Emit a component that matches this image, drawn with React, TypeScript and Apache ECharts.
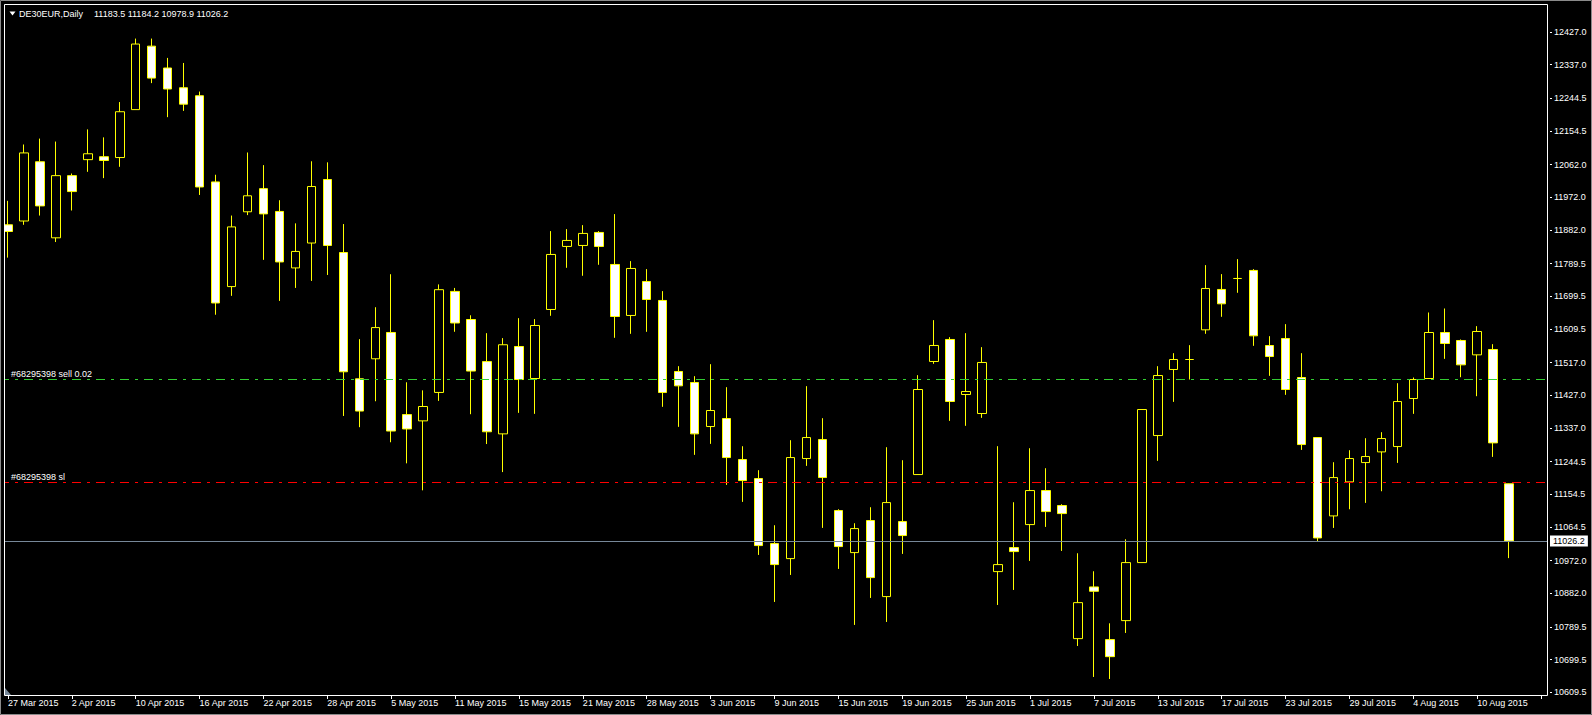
import React, { useEffect, useRef } from "react";
import * as echarts from "echarts";

const dates = [
  "27 Mar 2015", "30 Mar 2015", "31 Mar 2015", "1 Apr 2015", "2 Apr 2015", "7 Apr 2015", "8 Apr 2015", "9 Apr 2015",
  "10 Apr 2015", "13 Apr 2015", "14 Apr 2015", "15 Apr 2015", "16 Apr 2015", "17 Apr 2015", "20 Apr 2015", "21 Apr 2015",
  "22 Apr 2015", "23 Apr 2015", "24 Apr 2015", "27 Apr 2015", "28 Apr 2015", "29 Apr 2015", "30 Apr 2015", "4 May 2015",
  "5 May 2015", "6 May 2015", "7 May 2015", "8 May 2015", "11 May 2015", "12 May 2015", "13 May 2015", "14 May 2015",
  "15 May 2015", "18 May 2015", "19 May 2015", "20 May 2015", "21 May 2015", "22 May 2015", "26 May 2015", "27 May 2015",
  "28 May 2015", "29 May 2015", "1 Jun 2015", "2 Jun 2015", "3 Jun 2015", "4 Jun 2015", "5 Jun 2015", "8 Jun 2015",
  "9 Jun 2015", "10 Jun 2015", "11 Jun 2015", "12 Jun 2015", "15 Jun 2015", "16 Jun 2015", "17 Jun 2015", "18 Jun 2015",
  "19 Jun 2015", "22 Jun 2015", "23 Jun 2015", "24 Jun 2015", "25 Jun 2015", "26 Jun 2015", "29 Jun 2015", "30 Jun 2015",
  "1 Jul 2015", "2 Jul 2015", "3 Jul 2015", "6 Jul 2015", "7 Jul 2015", "8 Jul 2015", "9 Jul 2015", "10 Jul 2015",
  "13 Jul 2015", "14 Jul 2015", "15 Jul 2015", "16 Jul 2015", "17 Jul 2015", "20 Jul 2015", "21 Jul 2015", "22 Jul 2015",
  "23 Jul 2015", "24 Jul 2015", "27 Jul 2015", "28 Jul 2015", "29 Jul 2015", "30 Jul 2015", "31 Jul 2015", "3 Aug 2015",
  "4 Aug 2015", "5 Aug 2015", "6 Aug 2015", "7 Aug 2015", "10 Aug 2015", "11 Aug 2015", "12 Aug 2015",
];

const opens = [
  11896.4, 11906.8, 12069.9, 11860.5, 12031.7, 12075.7, 12083.8, 12081.5, 12213.4, 12388.1, 12327.9, 12273.6,
  12251.6, 12014.4, 11726.3, 11932.2, 11995.9, 11933.1, 11777.7, 11846.2, 12021.0, 11820.1, 11472.5, 11527.6,
  11600.0, 11374.0, 11356.7, 11434.9, 11713.0, 11635.7, 11519.8, 11320.9, 11561.4, 11473.3, 11663.3, 11836.8,
  11839.5, 11875.3, 11787.2, 11646.8, 11740.4, 11688.1, 11492.6, 11462.3, 11341.1, 11363.1, 11250.2, 11197.9,
  11018.9, 10977.6, 11253.0, 11305.3, 11109.8, 10994.1, 11082.3, 10873.0, 11079.5, 11208.9, 11520.1, 11580.7,
  11429.2, 11376.9, 10941.8, 11007.9, 11071.2, 11164.9, 11123.6, 10757.3, 10899.6, 10754.6, 10806.9, 10966.6,
  11316.3, 11498.1, 11525.6, 11607.3, 11718.4, 11748.6, 11770.7, 11564.1, 11583.4, 11476.0, 11310.8, 11095.1,
  11188.7, 11241.9, 11271.3, 11286.0, 11418.2, 11473.3, 11599.9, 11577.9, 11538.4, 11553.1, 11183.5,
];
const highs = [
  11962.3, 12117.4, 12133.6, 12125.5, 12037.5, 12159.0, 12137.0, 12234.2, 12408.9, 12408.9, 12355.7, 12341.8,
  12263.1, 12034.1, 11921.8, 12095.4, 12060.6, 11964.0, 11900.3, 12071.2, 12068.3, 11898.4, 11581.6, 11669.5,
  11760.3, 11462.9, 11440.7, 11732.3, 11722.6, 11647.3, 11598.1, 11584.5, 11639.4, 11636.7, 11879.0, 11884.5,
  11895.5, 11879.0, 11925.8, 11796.4, 11774.4, 11713.8, 11507.2, 11479.7, 11512.7, 11449.4, 11286.9, 11220.9,
  11069.4, 11303.5, 11452.2, 11364.1, 11113.5, 11074.9, 11119.0, 11284.2, 11248.4, 11482.5, 11633.9, 11587.1,
  11598.1, 11559.6, 11287.0, 11132.7, 11281.4, 11226.4, 11127.2, 10992.3, 10942.7, 10799.5, 11030.8, 11387.9,
  11507.2, 11543.0, 11565.1, 11785.4, 11760.6, 11801.9, 11774.3, 11589.8, 11622.9, 11543.0, 11310.8, 11242.9,
  11275.9, 11309.0, 11325.5, 11460.4, 11476.0, 11655.0, 11666.0, 11580.7, 11617.4, 11567.8, 11184.2,
];
const lows = [
  11806.0, 11896.4, 11921.8, 11848.9, 11935.7, 12042.2, 12024.8, 12056.0, 12213.4, 12286.3, 12192.6, 12209.9,
  11978.5, 11648.8, 11700.8, 11923.0, 11799.9, 11686.9, 11722.6, 11741.9, 11758.3, 11370.2, 11339.3, 11410.7,
  11297.8, 11239.8, 11165.5, 11411.7, 11601.9, 11375.0, 11292.9, 11215.7, 11378.7, 11376.0, 11645.9, 11778.0,
  11756.0, 11786.3, 11585.3, 11596.3, 11601.8, 11395.3, 11340.2, 11263.1, 11293.4, 11180.5, 11133.7, 10987.7,
  10858.3, 10932.6, 11232.8, 11062.1, 10949.2, 10795.0, 10869.3, 10803.2, 10990.5, 11208.9, 11513.7, 11356.7,
  11343.0, 11365.0, 10850.0, 10891.3, 10971.2, 11064.8, 10998.7, 10737.1, 10651.8, 10646.2, 10772.9, 10966.6,
  11246.6, 11409.0, 11470.5, 11596.3, 11643.1, 11709.2, 11563.2, 11480.6, 11428.3, 11276.8, 11023.5, 11062.0,
  11113.4, 11130.9, 11163.0, 11241.0, 11376.0, 11473.3, 11527.4, 11476.9, 11424.6, 11257.5, 10978.9,
];
const closes = [
  11877.9, 12094.2, 11948.4, 12031.7, 11987.8, 12091.9, 12073.4, 12207.6, 12393.9, 12300.2, 12270.1, 12228.4,
  12000.5, 11681.2, 11890.6, 11976.2, 11926.4, 11794.1, 11823.0, 12001.7, 11839.5, 11491.8, 11383.7, 11613.5,
  11328.7, 11334.5, 11396.2, 11717.8, 11626.1, 11493.8, 11326.7, 11566.2, 11470.5, 11619.2, 11814.7, 11853.3,
  11872.6, 11836.8, 11644.0, 11776.2, 11690.8, 11434.7, 11453.1, 11320.9, 11385.2, 11255.7, 11192.4, 11013.4,
  10961.1, 11255.7, 11310.8, 11200.7, 11010.7, 11060.2, 10925.3, 11131.8, 11041.0, 11443.0, 11564.2, 11410.0,
  11437.5, 11517.4, 10961.1, 10996.9, 11164.9, 11107.0, 11101.5, 10856.4, 10887.6, 10707.7, 10966.6, 11387.9,
  11481.5, 11525.6, 11525.6, 11721.1, 11678.9, 11748.6, 11590.8, 11533.8, 11443.0, 11291.5, 11034.5, 11200.6,
  11253.0, 11258.5, 11308.0, 11409.9, 11470.5, 11599.9, 11569.6, 11510.9, 11602.7, 11296.1, 11026.2,
];

const priceTicks = [
  12427.0, 12337.0, 12244.5, 12154.5, 12062.0, 11972.0, 11882.0, 11789.5, 11699.5, 11609.5, 11517.0,
  11427.0, 11337.0, 11244.5, 11154.5, 11064.5, 10972.0, 10882.0, 10789.5, 10699.5, 10609.5,
];

const sellPrice = 11470.5;
const sellLabel = "#68295398 sell 0.02";
const slPrice = 11187.0;
const slLabel = "#68295398 sl";
const bidPrice = 11026.2;
const titleSymbol = "DE30EUR,Daily";
const titleValues = "11183.5 11184.2 10978.9 11026.2";

const FONT = "'Liberation Sans', Arial, sans-serif";

export default function App() {
  const ref = useRef<HTMLDivElement>(null);

  useEffect(() => {
    if (!ref.current) return;
    const chart = echarts.init(ref.current, undefined, { renderer: "svg" });
    const categories = [...dates, "", ""];
    const data = dates.map((_, i) => [opens[i], closes[i], lows[i], highs[i]]);
    const dashDot = [9, 6, 3, 6];

    const option: any = {
      animation: false,
      backgroundColor: "#000000",
      grid: { left: -3, right: 43, top: 4, bottom: 19, containLabel: false },
      xAxis: {
        type: "category",
        data: categories,
        boundaryGap: true,
        axisLine: { show: false },
        axisTick: { show: true, interval: 3, alignWithLabel: true, length: 3, lineStyle: { color: "#ffffff" } },
        axisLabel: { interval: 3, align: "left", color: "#ffffff", fontSize: 9, fontFamily: FONT, margin: 2 },
        splitLine: { show: false },
      },
      yAxis: {
        type: "value",
        position: "right",
        min: 10599.4,
        max: 12504.1,
        axisLine: { show: false },
        axisTick: { show: true, customValues: priceTicks, length: 3, lineStyle: { color: "#ffffff" } },
        axisLabel: {
          customValues: priceTicks,
          color: "#ffffff",
          fontSize: 9,
          fontFamily: FONT,
          margin: 5,
          formatter: (v: number) => v.toFixed(1),
        },
        splitLine: { show: false },
      },
      series: [
        {
          type: "candlestick",
          data,
          barWidth: 9,
          itemStyle: {
            color: "#000000",
            color0: "#ffffff",
            borderColor: "#ffff00",
            borderColor0: "#ffff00",
            borderColorDoji: "#ffff00",
            borderWidth: 1,
          },
          markLine: {
            silent: true,
            symbol: ["none", "none"],
            animation: false,
            data: [
              {
                yAxis: sellPrice,
                lineStyle: { color: "#32cd32", type: dashDot, width: 1 },
                label: {
                  show: true,
                  position: "insideStartTop",
                  formatter: sellLabel,
                  color: "#ffffff",
                  fontSize: 9,
                  fontFamily: FONT,
                  distance: 1,
                  padding: [0, 0, 0, 10],
                },
              },
              {
                yAxis: slPrice,
                lineStyle: { color: "#ff0000", type: dashDot, width: 1 },
                label: {
                  show: true,
                  position: "insideStartTop",
                  formatter: slLabel,
                  color: "#ffffff",
                  fontSize: 9,
                  fontFamily: FONT,
                  distance: 1,
                  padding: [0, 0, 0, 10],
                },
              },
              {
                yAxis: bidPrice,
                lineStyle: { color: "#778899", type: "solid", width: 1 },
                label: {
                  show: true,
                  position: "end",
                  formatter: bidPrice.toFixed(1),
                  color: "#000000",
                  backgroundColor: "#ffffff",
                  fontSize: 9,
                  fontFamily: FONT,
                  distance: 1,
                  padding: [1, 3, 1, 3],
                },
              },
            ],
          },
        },
      ],
      graphic: [
        { type: "rect", z: 100, shape: { x: 0, y: 0, width: 4.5, height: 715 }, style: { fill: "#000000" } },
        { type: "rect", z: 100, shape: { x: 1548, y: 0, width: 2, height: 696 }, style: { fill: "#000000" } },
        {
          type: "rect",
          z: 101,
          shape: { x: 4.5, y: 4.5, width: 1543, height: 691 },
          style: { fill: null, stroke: "#ffffff", lineWidth: 1 },
        },
        {
          type: "rect",
          z: 101,
          shape: { x: 0.5, y: 0.5, width: 1591, height: 714 },
          style: { fill: null, stroke: "#8a8a8a", lineWidth: 1 },
        },
        {
          type: "polygon",
          z: 102,
          shape: { points: [[5, 688], [5, 695], [11, 695]] },
          style: { fill: "#778899" },
        },
        {
          type: "polygon",
          z: 102,
          shape: { points: [[9.5, 11.5], [15.5, 11.5], [12.5, 15.5]] },
          style: { fill: "#ffffff" },
        },
        {
          type: "text",
          z: 102,
          style: { text: titleSymbol, x: 19, y: 13.5, fill: "#ffffff", font: `9px ${FONT}`, verticalAlign: "middle" },
        },
        {
          type: "text",
          z: 102,
          style: { text: titleValues, x: 94, y: 13.5, fill: "#ffffff", font: `9px ${FONT}`, verticalAlign: "middle" },
        },
      ],
    };

    chart.setOption(option);
    return () => chart.dispose();
  }, []);

  return (
    <div
      ref={ref}
      style={{ position: "fixed", left: 0, top: 0, width: 1592, height: 715, background: "#000" }}
    />
  );
}
